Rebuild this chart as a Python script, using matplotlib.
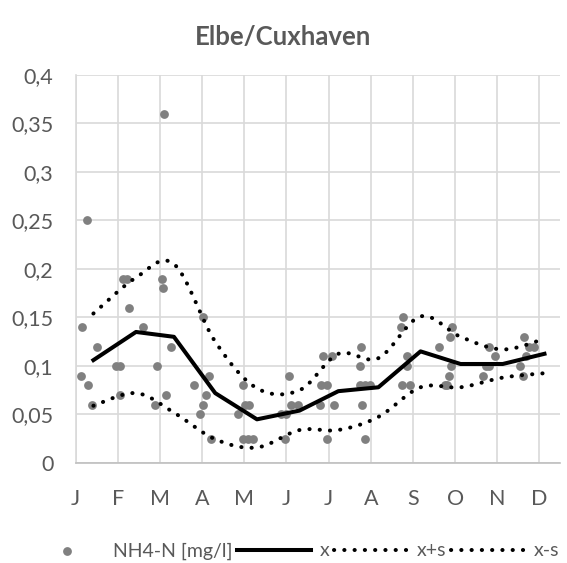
import numpy as np
import matplotlib
matplotlib.use("Agg")
import matplotlib.pyplot as plt

# month position (0 = J tick) and NH4-N concentration of each sample
sample_month = [0.26, 0.16, 0.50, 0.13, 0.30, 0.38,
                1.13, 1.22, 1.26, 1.60, 0.95, 1.05, 1.06,
                2.09, 2.05, 2.06, 2.27, 1.93, 1.89, 2.15,
                3.01, 3.16, 2.81, 3.09, 3.01, 2.95, 3.21,
                3.96, 4.02, 4.11, 3.86, 3.96, 4.08, 4.20,
                5.07, 5.11, 5.27, 4.88, 5.00, 4.97,
                5.87, 6.07, 5.83, 5.95, 5.79, 6.12, 5.97,
                6.77, 6.74, 6.74, 6.86, 6.98, 6.80, 6.86,
                7.76, 7.72, 7.86, 7.86, 7.74, 7.94,
                8.92, 8.87, 8.63, 8.90, 8.85, 8.81, 8.77,
                9.81, 9.95, 9.73, 9.81, 9.67,
                10.64, 10.76, 10.88, 10.68, 10.53, 10.61]
sample_nh4 = [0.25, 0.14, 0.12, 0.09, 0.08, 0.06,
              0.19, 0.19, 0.16, 0.14, 0.10, 0.10, 0.07,
              0.36, 0.19, 0.18, 0.12, 0.10, 0.06, 0.07,
              0.15, 0.09, 0.08, 0.07, 0.06, 0.05, 0.025,
              0.08, 0.06, 0.06, 0.05, 0.025, 0.025, 0.025,
              0.09, 0.06, 0.06, 0.05, 0.05, 0.025,
              0.11, 0.11, 0.08, 0.08, 0.06, 0.06, 0.025,
              0.12, 0.10, 0.08, 0.08, 0.08, 0.06, 0.025,
              0.15, 0.14, 0.11, 0.10, 0.08, 0.08,
              0.14, 0.13, 0.12, 0.10, 0.09, 0.08, 0.08,
              0.12, 0.11, 0.10, 0.10, 0.09,
              0.13, 0.12, 0.12, 0.11, 0.10, 0.09]

# monthly mean and mean +/- standard deviation
stat_month = [0.42, 1.43, 2.33, 3.31, 4.30, 5.31, 6.23, 7.18, 8.18, 9.13, 10.13, 11.12]
mean_x = [0.106, 0.135, 0.130, 0.072, 0.045, 0.054, 0.074, 0.078, 0.115, 0.102, 0.102, 0.1125]
x_plus_s = [0.154, 0.191, 0.205, 0.125, 0.077, 0.075, 0.1125, 0.108, 0.151, 0.130, 0.117, 0.128]
x_minus_s = [0.059, 0.072, 0.052, 0.0245, 0.016, 0.034, 0.034, 0.0475, 0.078, 0.078, 0.088, 0.0925]

month_labels = ["J", "F", "M", "A", "M", "J", "J", "A", "S", "O", "N", "D"]
y_ticks = [0, 0.05, 0.1, 0.15, 0.2, 0.25, 0.3, 0.35, 0.4]


def smooth(xs, ys, n=24):
    # Excel-style smoothed line: Bezier segments through the given points
    p = np.column_stack([xs, ys])
    out = [p[0]]
    for i in range(len(p) - 1):
        p0 = p[i - 1] if i > 0 else p[i]
        p3 = p[i + 2] if i + 2 < len(p) else p[i + 1]
        c1 = p[i] + (p[i + 1] - p0) / 6
        c2 = p[i + 1] - (p3 - p[i]) / 6
        t = np.linspace(0, 1, n)[1:, None]
        seg = ((1 - t) ** 3 * p[i] + 3 * (1 - t) ** 2 * t * c1
               + 3 * (1 - t) * t ** 2 * c2 + t ** 3 * p[i + 1])
        out.extend(seg)
    out = np.array(out)
    return out[:, 0], out[:, 1]


plt.rcParams["font.family"] = ["Lato", "DejaVu Sans"]
text_color = "#595959"
grid_color = "#d9d9d9"

fig = plt.figure(figsize=(5.67, 5.63), dpi=100)
ax = fig.add_axes([0.1335, 0.1776, 0.855, 0.6897])

ax.scatter(sample_month, sample_nh4, s=40, color="#808080", zorder=3,
           linewidths=0, label="NH4-N [mg/l]")
ax.plot(stat_month, mean_x, color="black", lw=2.9, zorder=4, label="x")
dots = dict(color="black", lw=2.9, linestyle=(0, (0.05, 2.5)),
            dash_capstyle="round", zorder=4)
ax.plot(*smooth(stat_month, x_plus_s), label="x+s", **dots)
ax.plot(*smooth(stat_month, x_minus_s), label="x-s", **dots)

ax.set_xlim(0, 11.5)
ax.set_ylim(0, 0.4)
ax.set_xticks(range(12))
ax.set_xticklabels(month_labels)
ax.set_yticks(y_ticks)
ax.set_yticklabels([("%g" % v).replace(".", ",") for v in y_ticks])
ax.tick_params(length=0, labelsize=15.5, colors=text_color)
ax.tick_params(axis="x", pad=19)
ax.tick_params(axis="y", pad=16)
ax.grid(True, color=grid_color, lw=1.2)
ax.set_axisbelow(True)
for side in ["top", "right"]:
    ax.spines[side].set_visible(False)
ax.spines["left"].set_color(grid_color)
ax.spines["left"].set_linewidth(1.2)
ax.spines["bottom"].set_color("#bfbfbf")
ax.spines["bottom"].set_linewidth(1.2)

fig.text(0.5, 1 - 37 / 563, "Elbe/Cuxhaven", ha="center", va="center",
         fontsize=18.5, fontweight="bold", color=text_color)

fig.legend(loc="center left", bbox_to_anchor=(30 / 567, 1 - 551 / 563),
           ncol=4, frameon=False, fontsize=14, labelcolor=text_color,
           handlelength=3.8, handletextpad=0.45, columnspacing=0.25,
           borderpad=0, borderaxespad=0, scatterpoints=1)

fig.savefig("out.png", dpi=100)
